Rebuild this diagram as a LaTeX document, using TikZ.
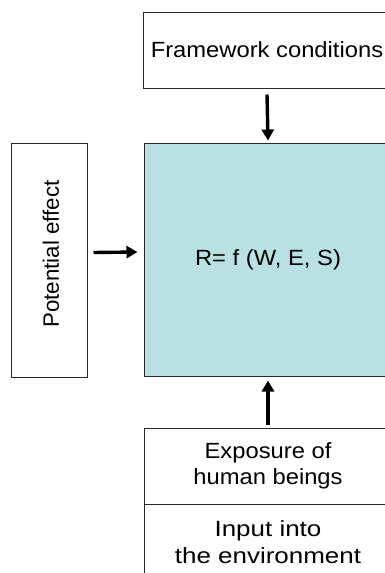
\documentclass[tikz,border=0pt]{standalone}
\usepackage{fontspec}
\setmainfont{Liberation Sans}[FakeStretch=1.08]
\newfontfamily\widefont{Liberation Sans}[FakeStretch=1.18]
\newfontfamily\plainfont{Liberation Sans}
\usetikzlibrary{arrows.meta}
\definecolor{riskfill}{RGB}{185,224,227}
\definecolor{edgegray}{RGB}{40,40,40}
\tikzset{
  box/.style={draw=edgegray, line width=1pt, rectangle, inner sep=0pt,
    align=center, font=\fontsize{22}{26.5}\selectfont},
  flow/.style={line width=3.4pt, -{Triangle[width=12pt,length=11pt]}},
}
\begin{document}
\begin{tikzpicture}[x=1pt,y=1pt]
\useasboundingbox (0,0) rectangle (385,-573);
\clip (0,0) rectangle (385,-573);
% outer boxes
\node[box, minimum width=248pt, minimum height=76pt] (frame) at (267,-50) {Framework conditions};
\node[box, fill=riskfill, minimum width=248pt, minimum height=233pt] (risk) at (268,-259.5) {R= f (W, E, S)};
\node[box, minimum width=76pt, minimum height=234pt] (effect) at (49,-260) {};
\node[font=\plainfont\fontsize{22.3}{26.5}\selectfont, rotate=90, inner sep=0pt] (effecttext) at (51,-254) {Potential effect};
\node[box, minimum width=248pt, minimum height=76pt] (exposure) at (268,-466) {Exposure of\\human beings};
\node[box, minimum width=248pt, minimum height=76pt, font=\widefont\fontsize{22}{26.5}\selectfont] (input) at (268,-542) {Input into\\the environment};
% influence arrows
\draw[flow] ([yshift=-6pt]frame.south) -- ([yshift=2pt]risk.north);
\draw[flow] ([shift={(6pt,7.5pt)}]effect.east) -- ([shift={(-6pt,7.5pt)}]risk.west);
\draw[flow] ([yshift=3pt]exposure.north) -- ([yshift=-4pt]risk.south);
\end{tikzpicture}
\end{document}
